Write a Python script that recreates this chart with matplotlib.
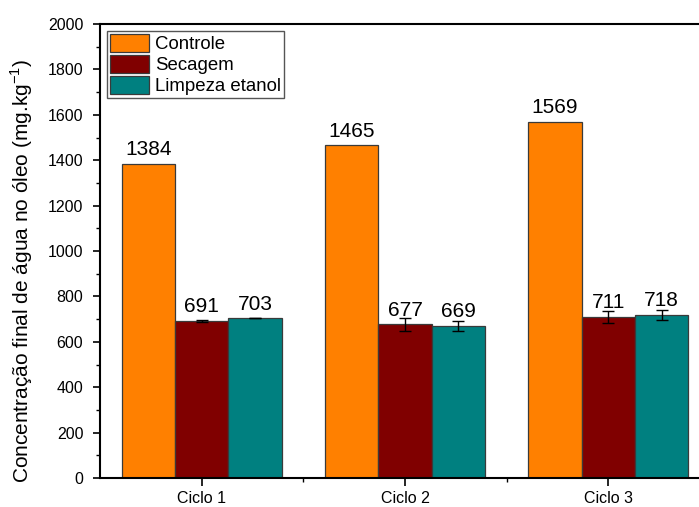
import matplotlib
matplotlib.use("Agg")
import matplotlib.pyplot as plt
import numpy as np
from matplotlib.ticker import MultipleLocator, FixedLocator

plt.rcParams['font.family'] = ['Liberation Sans', 'DejaVu Sans']

categories = ["Ciclo 1", "Ciclo 2", "Ciclo 3"]
series_names = ["Controle", "Secagem", "Limpeza etanol"]
controle = [1384, 1465, 1569]
secagem = [691, 677, 711]
limpeza = [703, 669, 718]
secagem_err = [4, 29, 26]
limpeza_err = [0, 21, 20]
colors = ["#FF8000", "#800000", "#008080"]

fig = plt.figure(figsize=(6.99, 5.07), dpi=100)
ax = fig.add_axes([100/699, 29/507, 610/699, 454/507])

x = np.arange(1, len(categories) + 1)
w = 0.262
series = [controle, secagem, limpeza]
errs = [None, secagem_err, limpeza_err]
for i, (vals, name, c, e) in enumerate(zip(series, series_names, colors, errs)):
    pos = x + (i - 1) * w
    ax.bar(pos, vals, width=w, color=c, edgecolor="#3a3a3a", linewidth=0.9, label=name, zorder=2)
    if e is not None:
        ax.errorbar(pos, vals, yerr=e, fmt='none', ecolor='black', elinewidth=1.0,
                    capsize=4, capthick=1.0, zorder=3)
    for p, v in zip(pos, vals):
        ax.annotate(str(v), (p, v), xytext=(0, 6.3), textcoords='offset points',
                    ha='center', va='baseline', fontsize=15, color='black')

ax.set_xlim(0.5, 3.5)
ax.set_ylim(0, 2000)
ax.set_xticks(x)
ax.set_xticklabels(categories, fontsize=11.5)
ax.xaxis.set_minor_locator(FixedLocator([1.5, 2.5]))
ax.yaxis.set_major_locator(MultipleLocator(200))
ax.yaxis.set_minor_locator(MultipleLocator(100))
ax.tick_params(axis='y', which='major', direction='out', length=5, width=1.2, labelsize=11.5, pad=7)
ax.tick_params(axis='y', which='minor', direction='out', length=3, width=1.0)
ax.tick_params(axis='x', which='major', direction='out', length=6, width=1.2, labelsize=11.5, pad=3.5)
ax.tick_params(axis='x', which='minor', direction='out', length=3, width=1.0)
for s in ax.spines.values():
    s.set_linewidth(1.5)

fig.text(22/699, 0.465, "Concentração final de água no óleo (mg.kg$^{\\mathregular{-1}}$)",
         rotation=90, ha='center', va='center', fontsize=15)

leg = ax.legend(loc='upper left', fontsize=13.4, handlelength=2.1, handleheight=1.08,
                labelspacing=0.1, handletextpad=0.3, borderpad=0.15, borderaxespad=0.4,
                fancybox=False, framealpha=1, edgecolor='#555555')
leg.get_frame().set_linewidth(1.0)

fig.savefig("out.png", dpi=100)
